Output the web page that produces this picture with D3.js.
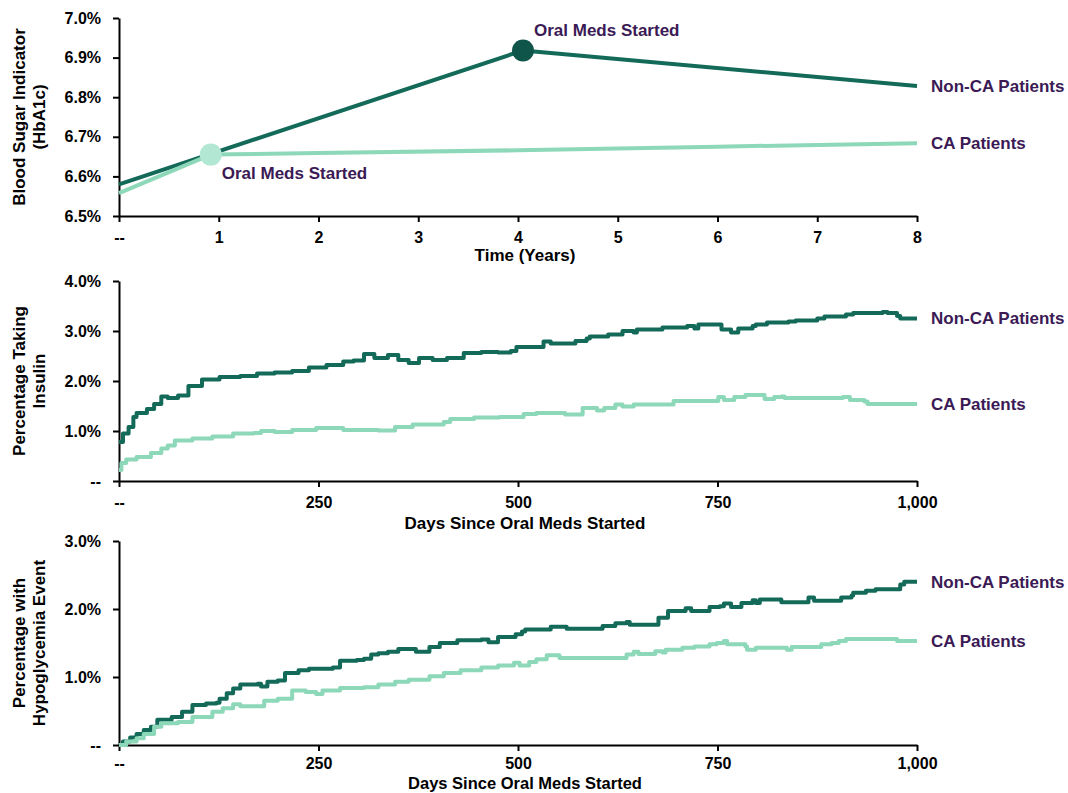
<!DOCTYPE html>
<html>
<head>
<meta charset="utf-8">
<script src="https://cdn.jsdelivr.net/npm/d3@7"></script>
<style>
  body { margin: 0; background: #fff; }
  svg { font-family: "Liberation Sans", Arial, sans-serif; font-weight: bold; }
</style>
</head>
<body>
<script>
// ---- data ----
const yearTicks = [0, 1, 2, 3, 4, 5, 6, 7, 8];
const hba1cTicks = [6.5, 6.6, 6.7, 6.8, 6.9, 7.0];
const dayTicks = [0, 250, 500, 750, 1000];
const insulinTicks = [0, 1, 2, 3, 4];
const hypoTicks = [0, 1, 2, 3];

// HbA1c (%) by years
const hba1cNonCa = [[0, 6.58], [4.05, 6.918], [8, 6.828]];
const hba1cCa = [[0, 6.558], [0.92, 6.655], [2, 6.659], [4, 6.666], [6, 6.675], [8, 6.684]];
const medsStartNonCa = [4.05, 6.918];
const medsStartCa = [0.92, 6.655];

// % taking insulin by days since oral meds started
const insulinNonCa = [[0, 0.78], [5, 0.95], [12, 1.08], [18, 1.28], [22, 1.36], [35, 1.44], [44, 1.54], [53, 1.69], [61, 1.66],
  [74, 1.71], [87, 1.9], [104, 2.03], [126, 2.08], [152, 2.1], [173, 2.15], [195, 2.17], [217, 2.2], [238, 2.27], [260, 2.32],
  [281, 2.39], [294, 2.41], [307, 2.54], [320, 2.46], [337, 2.52], [350, 2.42], [363, 2.36], [376, 2.46], [393, 2.42],
  [411, 2.46], [432, 2.56], [454, 2.58], [475, 2.57], [491, 2.6], [498, 2.68], [532, 2.79], [541, 2.75], [572, 2.8],
  [586, 2.85], [590, 2.89], [613, 2.93], [631, 3.0], [645, 2.97], [649, 3.03], [681, 3.07], [712, 3.1], [721, 3.05],
  [726, 3.13], [755, 3.03], [767, 2.97], [776, 3.05], [794, 3.1], [798, 3.13], [812, 3.17], [839, 3.19], [848, 3.21],
  [875, 3.25], [884, 3.29], [911, 3.33], [920, 3.36], [957, 3.38], [963, 3.36], [975, 3.3], [979, 3.25], [1000, 3.25]];
const insulinCa = [[0, 0.22], [3, 0.36], [9, 0.43], [22, 0.48], [40, 0.56], [53, 0.65], [61, 0.71], [70, 0.81], [92, 0.85],
  [117, 0.89], [143, 0.95], [169, 0.96], [178, 1.0], [195, 0.98], [217, 1.02], [247, 1.06], [281, 1.02], [325, 1.01],
  [346, 1.08], [368, 1.13], [407, 1.18], [415, 1.24], [445, 1.27], [477, 1.28], [507, 1.34], [523, 1.36], [559, 1.33],
  [581, 1.46], [599, 1.41], [608, 1.46], [622, 1.53], [631, 1.49], [645, 1.53], [695, 1.6], [751, 1.68], [758, 1.62],
  [771, 1.68], [785, 1.72], [809, 1.64], [821, 1.68], [830, 1.69], [834, 1.66], [907, 1.68], [916, 1.62], [934, 1.59],
  [938, 1.54], [1000, 1.54]];

// % with hypoglycemia event by days since oral meds started
const hypoNonCa = [[0, 0], [5, 0.05], [14, 0.11], [22, 0.16], [31, 0.22], [40, 0.27], [48, 0.37], [66, 0.41], [79, 0.49],
  [92, 0.59], [109, 0.61], [122, 0.62], [126, 0.68], [135, 0.76], [143, 0.83], [152, 0.89], [174, 0.9], [178, 0.86],
  [186, 0.93], [199, 0.95], [208, 1.06], [225, 1.1], [238, 1.12], [268, 1.14], [277, 1.24], [298, 1.25], [307, 1.27],
  [316, 1.33], [325, 1.35], [337, 1.37], [350, 1.41], [372, 1.37], [389, 1.44], [402, 1.5], [424, 1.54], [454, 1.55],
  [463, 1.51], [475, 1.59], [497, 1.63], [505, 1.67], [509, 1.7], [541, 1.74], [561, 1.71], [606, 1.75], [622, 1.79],
  [636, 1.81], [640, 1.77], [676, 1.87], [688, 1.97], [710, 2.01], [717, 1.97], [740, 2.03], [753, 2.04], [758, 2.08],
  [767, 2.03], [780, 2.09], [794, 2.13], [798, 2.09], [803, 2.14], [830, 2.1], [864, 2.17], [871, 2.12], [905, 2.17],
  [918, 2.2], [920, 2.24], [936, 2.27], [948, 2.29], [979, 2.36], [984, 2.4], [1000, 2.4]];
const hypoCa = [[0, 0], [9, 0.05], [22, 0.1], [31, 0.16], [44, 0.27], [53, 0.32], [74, 0.34], [92, 0.41], [117, 0.49],
  [130, 0.54], [143, 0.6], [152, 0.57], [182, 0.65], [199, 0.68], [217, 0.8], [234, 0.78], [247, 0.75], [255, 0.8],
  [277, 0.84], [307, 0.85], [325, 0.89], [346, 0.93], [363, 0.96], [389, 1.01], [407, 1.06], [428, 1.1], [454, 1.14],
  [475, 1.17], [495, 1.21], [502, 1.17], [514, 1.22], [523, 1.26], [536, 1.32], [552, 1.28], [636, 1.33], [645, 1.37],
  [651, 1.34], [672, 1.38], [681, 1.36], [685, 1.4], [706, 1.43], [721, 1.45], [740, 1.48], [749, 1.5], [758, 1.53],
  [762, 1.48], [785, 1.45], [787, 1.4], [798, 1.43], [837, 1.4], [843, 1.44], [880, 1.48], [893, 1.5], [902, 1.53],
  [911, 1.56], [975, 1.53], [1000, 1.53]];

// ---- drawing ----
const width = 1068, height = 793;
const darkGreen = "#136a58", lightGreen = "#8dd8b8", purple = "#3b1a55";
const left = 119, right = 917;

const svg = d3.select("body").append("svg")
    .attr("width", width)
    .attr("height", height)
    .attr("viewBox", [0, 0, width, height]);

const fmtPct = d => d === 0 ? "--" : d.toFixed(1) + "%";
const fmtX = d => d === 0 ? "--" : d3.format(",")(d);

function panel(o) {
  const x = d3.scaleLinear().domain(o.xDomain).range([left, right]);
  const y = d3.scaleLinear().domain(o.yDomain).range([o.bottom, o.top]);
  const pad = o.xPad || 10;

  const gx = svg.append("g")
      .attr("transform", `translate(0,${o.bottom})`)
      .call(d3.axisBottom(x).tickValues(o.xTicks).tickFormat(fmtX).tickSize(6).tickPadding(pad).tickSizeOuter(0));
  const gy = svg.append("g")
      .attr("transform", `translate(${left},0)`)
      .call(d3.axisLeft(y).tickValues(o.yTicks).tickFormat(fmtPct).tickSize(6).tickPadding(12).tickSizeOuter(0));
  [gx, gy].forEach(g => {
    g.selectAll("path, line").attr("stroke", "#000").attr("stroke-width", 2);
    g.selectAll("text").attr("font-size", 16).attr("font-family", null).attr("fill", "#000");
  });

  // axis titles
  svg.append("text")
      .attr("x", (left + right) / 2 + 7)
      .attr("y", o.bottom + o.titleDy)
      .attr("text-anchor", "middle")
      .attr("font-size", o.titleSize || 17)
      .text(o.xTitle);
  const cy = (o.top + o.bottom) / 2;
  o.yTitle.forEach((t, i) => {
    svg.append("text")
        .attr("transform", `translate(${25 + i * 20},${cy}) rotate(-90)`)
        .attr("text-anchor", "middle")
        .attr("font-size", 17)
        .text(t);
  });

  const line = d3.line()
      .x(d => x(d[0]))
      .y(d => y(d[1]))
      .curve(o.step ? d3.curveStepAfter : d3.curveLinear);

  o.series.forEach(s => {
    svg.append("path")
        .datum(s.data)
        .attr("fill", "none")
        .attr("stroke", s.color)
        .attr("stroke-width", 4)
        .attr("stroke-linejoin", "round")
        .attr("d", line);
  });

  o.series.forEach(s => {
    const last = s.data[s.data.length - 1];
    svg.append("text")
        .attr("x", 931)
        .attr("y", y(last[1]))
        .attr("dy", "0.35em")
        .attr("font-size", 17)
        .attr("fill", purple)
        .text(s.name);
  });

  return { x, y };
}

const hbPanel = panel({
  xDomain: [0, 8], yDomain: [6.5, 7.0], top: 18, bottom: 216,
  xTicks: yearTicks, yTicks: hba1cTicks, titleDy: 45,
  xTitle: "Time (Years)", yTitle: ["Blood Sugar Indicator", "(HbA1c)"],
  series: [
    { name: "Non-CA Patients", data: hba1cNonCa, color: darkGreen },
    { name: "CA Patients", data: hba1cCa, color: lightGreen }
  ]
});

// oral meds started markers
[
  { p: medsStartNonCa, fill: "#10554a", dy: -14 },
  { p: medsStartCa, fill: "#b2e8d3", dy: 24 }
].forEach(m => {
  const cx = hbPanel.x(m.p[0]), cy = hbPanel.y(m.p[1]);
  svg.append("circle")
      .attr("cx", cx)
      .attr("cy", cy)
      .attr("r", 11)
      .attr("fill", m.fill);
  svg.append("text")
      .attr("x", cx + 11)
      .attr("y", cy + m.dy)
      .attr("font-size", 17)
      .attr("fill", purple)
      .text("Oral Meds Started");
});

panel({
  xDomain: [0, 1000], yDomain: [0, 4], top: 281, bottom: 481, step: true,
  xTicks: dayTicks, yTicks: insulinTicks, titleDy: 48,
  xTitle: "Days Since Oral Meds Started", yTitle: ["Percentage Taking", "Insulin"],
  series: [
    { name: "Non-CA Patients", data: insulinNonCa, color: darkGreen },
    { name: "CA Patients", data: insulinCa, color: lightGreen }
  ]
});

panel({
  xDomain: [0, 1000], yDomain: [0, 3], top: 541, bottom: 745, step: true,
  xTicks: dayTicks, yTicks: hypoTicks, titleDy: 44.3, xPad: 7, titleSize: 16.5,
  xTitle: "Days Since Oral Meds Started", yTitle: ["Percentage with", "Hypoglycemia Event"],
  series: [
    { name: "Non-CA Patients", data: hypoNonCa, color: darkGreen },
    { name: "CA Patients", data: hypoCa, color: lightGreen }
  ]
});
</script>
</body>
</html>
